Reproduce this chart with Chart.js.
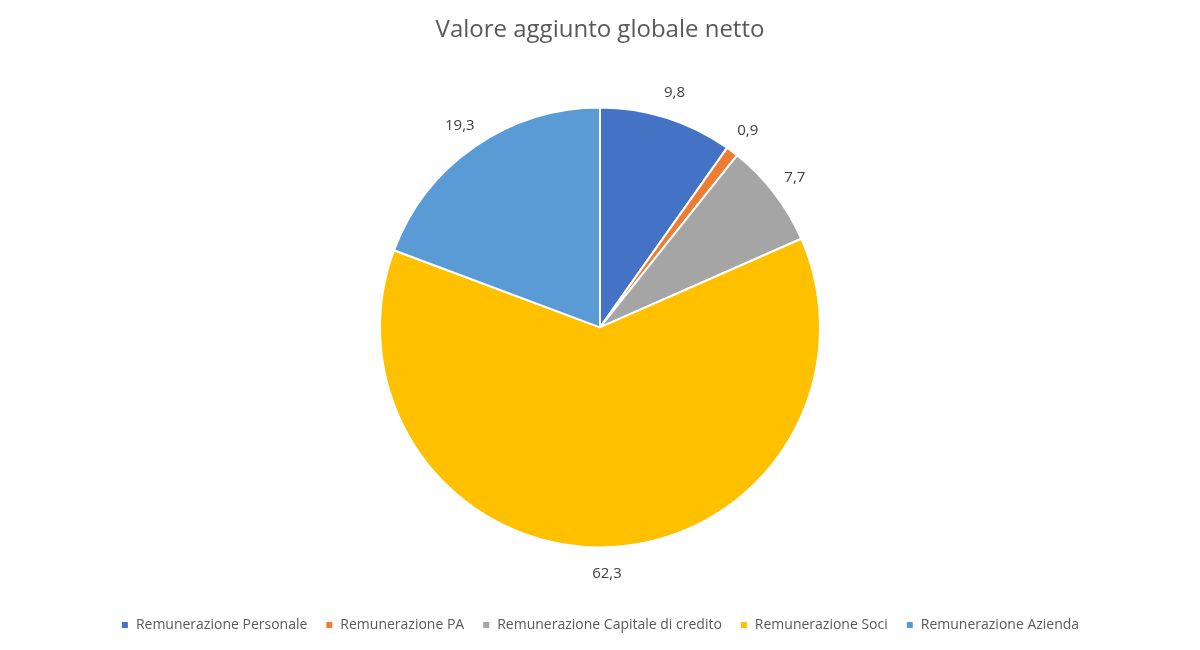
<!DOCTYPE html>
<html>
<head>
<meta charset="utf-8">
<script src="https://cdn.jsdelivr.net/npm/chart.js@4"></script>
<style>
  body { margin: 0; background: #fff; }
  #wrap { width: 1200px; height: 650px; }
</style>
</head>
<body>
<div id="wrap"><canvas id="pieChart"></canvas></div>
<script>
const categories = ["Remunerazione Personale", "Remunerazione PA", "Remunerazione Capitale di credito", "Remunerazione Soci", "Remunerazione Azienda"];
const values = [9.8, 0.9, 7.7, 62.3, 19.3];
const colors = ["#4472C4", "#ED7D31", "#A5A5A5", "#FFC000", "#5B9BD5"];

// labels just outside each slice
const outsideLabels = {
  id: "outsideLabels",
  afterDatasetsDraw(chart) {
    const ctx = chart.ctx;
    const meta = chart.getDatasetMeta(0);
    ctx.save();
    ctx.font = "15px 'Open Sans'";
    ctx.fillStyle = "#404040";
    ctx.textAlign = "center";
    ctx.textBaseline = "middle";
    meta.data.forEach((arc, i) => {
      const mid = (arc.startAngle + arc.endAngle) / 2;
      const r = arc.outerRadius + 26;
      const x = arc.x + Math.cos(mid) * r;
      const y = arc.y + Math.sin(mid) * r;
      ctx.fillText(values[i].toFixed(1).replace(".", ","), x, y);
    });
    ctx.restore();
  }
};

new Chart(document.getElementById("pieChart"), {
  type: "pie",
  data: {
    labels: categories,
    datasets: [{
      data: values,
      backgroundColor: colors,
      borderColor: "#fff",
      borderWidth: 2,
      radius: 220
    }]
  },
  options: {
    responsive: true,
    maintainAspectRatio: false,
    animation: false,
    layout: { padding: { bottom: 8 } },
    plugins: {
      title: {
        display: true,
        text: "Valore aggiunto globale netto",
        color: "#595959",
        font: { family: "'Open Sans'", size: 24, weight: "normal" },
        padding: { top: 16, bottom: 10 }
      },
      legend: {
        position: "bottom",
        labels: {
          color: "#595959",
          font: { family: "'Open Sans'", size: 14 },
          boxWidth: 8,
          boxHeight: 8,
          padding: 18
        }
      },
      tooltip: { enabled: false }
    }
  },
  plugins: [outsideLabels]
});
</script>
</body>
</html>
